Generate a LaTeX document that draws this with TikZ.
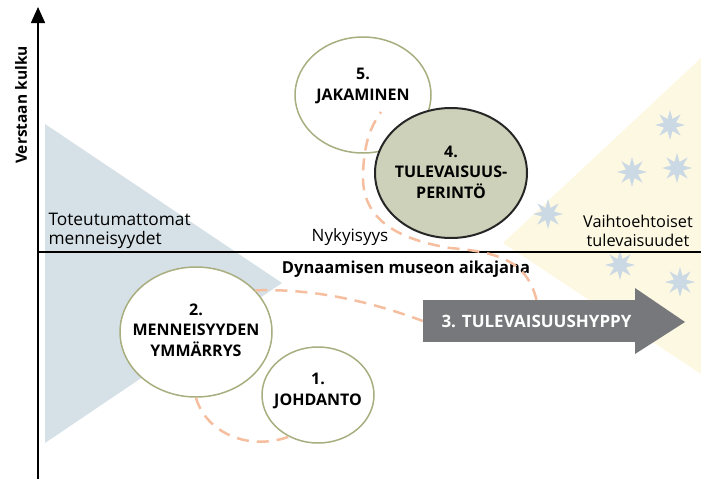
\documentclass[tikz,border=0pt]{standalone}
\usepackage{fontspec}
\setmainfont{Open Sans}
\usepackage{tikz}
\usetikzlibrary{shapes.geometric,arrows.meta}
\definecolor{pastblue}{HTML}{D6E1E7}
\definecolor{futureyellow}{HTML}{FDF8E2}
\definecolor{starblue}{HTML}{CBD9E4}
\definecolor{stageline}{HTML}{A9AE80}
\definecolor{perintofill}{HTML}{CDD1B9}
\definecolor{hyppygray}{HTML}{77787B}
\definecolor{dashorange}{HTML}{F4BE9F}
\begin{document}
\begin{tikzpicture}[x=1pt,y=-1pt]
                \tikzstyle{stage}=[ellipse,draw=stageline,line width=1.5pt,fill=white,inner sep=0pt]
                \tikzstyle{stagetext}=[align=center,font=\fontsize{16}{20.5}\selectfont\bfseries]
                \tikzstyle{plain}=[align=center,font=\fontsize{17}{19.5}\selectfont]
                \tikzstyle{axis}=[line width=1.5pt,black]
                \tikzstyle{dashpath}=[dashorange,line width=2.5pt,dash pattern=on 12pt off 8pt]
                \tikzstyle{sparkle}=[star,star points=8,star point ratio=2.3,fill=starblue,minimum size=30pt,inner sep=0pt]
                \useasboundingbox (0,0) rectangle (701,482);

                % taustat
                \fill[pastblue] (45,124) -- (282,283) -- (45,443) -- cycle;
                \fill[futureyellow] (503,243) -- (701,58) -- (701,374) -- cycle;
                \foreach \num/\x/\y in {1/670/125, 2/632/172, 3/677/168, 4/548/214, 5/620/265, 6/680/282}
                        \node[sparkle] (star-\num) at (\x,\y) {};

                % akselit
                \draw[axis,-{Triangle[length=16pt,width=14pt]}] (38,479) -- (38,7);
                \draw[axis] (38,252) -- (701,252);
                \node[plain,font=\fontsize{15.5}{19}\selectfont\bfseries,rotate=90] (kulku) at (21,105) {Verstaan kulku};
                \node[plain,font=\fontsize{16.5}{19}\selectfont\bfseries] (aikajana) at (406,269) {Dynaamisen museon aikajana};
                \node[plain,align=left,anchor=west,font=\fontsize{17.3}{19.5}\selectfont] (menneet) at (45,231) {Toteutumattomat\\menneisyydet};
                \node[plain] (nykyisyys) at (350,237) {Nykyisyys};
                \node[plain,font=\fontsize{16.3}{19.5}\selectfont] (tulevat) at (638,231) {Vaihtoehtoiset\\tulevaisuudet};

                % vaiheet
                \node[stage,minimum width=136pt,minimum height=116pt,label={[stagetext,yshift=9pt]center:5.\\JAKAMINEN}] (jakaminen) at (363,95) {};
                \node[stage,minimum width=152pt,minimum height=130pt,label={[stagetext,yshift=2pt]center:2.\\MENNEISYYDEN\\YMM\"ARRYS}] (menneisyys) at (196,332) {};
                \node[stage,minimum width=112pt,minimum height=96pt,label={[stagetext,yshift=4pt]center:1.\\JOHDANTO}] (johdanto) at (318,395) {};
                \node[fill=hyppygray,minimum width=227pt,minimum height=42pt,text=white,font=\fontsize{17}{19}\selectfont\bfseries] (hyppy) at (536.5,321) {3. TULEVAISUUSHYPPY};
                \fill[hyppygray] (635,288) -- (685,322) -- (635,354) -- cycle;
                \coordinate (jakaminen-in) at (381,112);

                \draw[dashpath] (menneisyys.south) .. controls (205,430) and (245,452) .. (johdanto.235);
                \draw[dashpath] (menneisyys.35) .. controls (320,288) and (380,305) .. (hyppy.west);
                \draw[dashpath] (hyppy.north) .. controls (527,262) and (500,252) .. (450,248) .. controls (390,238) and (362,215) .. (363,175) .. controls (364,140) and (372,125) .. (jakaminen-in);

                \node[stage,draw=black!85,line width=2pt,fill=perintofill,minimum width=152pt,minimum height=130pt,label={[stagetext,yshift=1pt]center:4.\\TULEVAISUUS-\\PERINT\"O}] (perinto) at (451,173) {};
\end{tikzpicture}
\end{document}
